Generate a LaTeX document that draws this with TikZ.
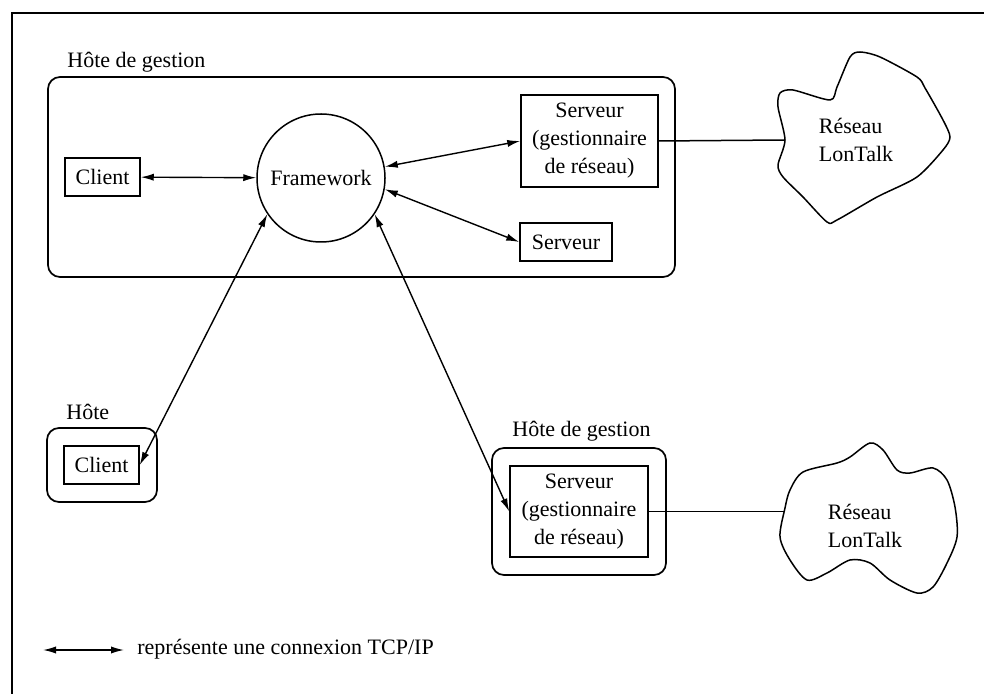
\documentclass[tikz,border=0pt]{standalone}
\usepackage{fontspec}
\setmainfont{Liberation Serif}
\usetikzlibrary{arrows.meta, positioning}
\tikzset{
  box/.style={
    rectangle,
    draw,
    line width=0.75pt,
    align=center,
    inner sep=0pt,
    font=\fontsize{11}{14}\selectfont
  },
  group/.style={
    rectangle,
    rounded corners=6pt,
    draw,
    line width=0.85pt,
    inner sep=0pt
  },
  hub/.style={
    circle,
    draw,
    line width=0.75pt,
    minimum size=64pt,
    inner sep=0pt,
    font=\fontsize{11}{14}\selectfont
  },
  tcp/.style={{Latex[length=6.5pt,width=3.6pt]}-{Latex[length=6.5pt,width=3.6pt]}, line width=0.7pt},
  link/.style={line width=0.75pt},
  cloud/.style={line width=0.75pt},
  note/.style={font=\fontsize{11}{14}\selectfont, align=left, inner sep=0pt}
}

\begin{document}
\begin{tikzpicture}[x=0.5pt,y=-0.5pt]
\useasboundingbox (0,0) rectangle (984,694);
\draw[line width=0.85pt] (984,13) -- (12,13) -- (12,694);

\node[note, anchor=base west] (hgtitle) at (67,68) {Hôte de gestion};
\node[group, minimum width=313.5pt, minimum height=100pt] (hgmain) at (361.5,177) {};
\node[box, minimum width=37.5pt, minimum height=19pt] (client) at (102.5,177) {Client};
\node[hub] (framework) at (321,178) {Framework};
\node[box, minimum width=68.5pt, minimum height=46pt] (srvgest) at (589.5,141) {Serveur\\(gestionnaire\\de réseau)};
\node[box, minimum width=46pt, minimum height=19pt] (srv) at (566,242) {Serveur};

\node[note, anchor=base west] (hotetitle) at (66,420) {Hôte};
\node[group, minimum width=55pt, minimum height=37pt] (hote) at (102,465) {};
\node[box, minimum width=37.5pt, minimum height=19pt] (client2) at (101.5,465) {Client};

\node[note, anchor=base west] (hg2title) at (512,437) {Hôte de gestion};
\node[group, minimum width=87pt, minimum height=63.5pt] (hg2) at (579,511.5) {};
\node[box, minimum width=69pt, minimum height=45.5pt] (srvgest2) at (579,511.5) {Serveur\\(gestionnaire\\de réseau)};

\draw[cloud] plot[smooth cycle, tension=0.45] coordinates {
  (860,52) (880,57) (917,77) (925,88) (943,120) (950,137) (943,150) (917,177)
  (877,197) (837,220) (827,222) (803,197) (783,177) (778,165) (785,140)
  (778,107) (780,93) (793,90) (830,100) (837,87) (850,57)};
\coordinate (lontalk1) at (785,140);
\node[note] (reseau1) at (856,140) {Réseau\\LonTalk};

\draw[cloud] plot[smooth cycle, tension=0.5] coordinates {
  (785,508) (790,490) (803,472) (837,463) (850,457) (870,443) (883,450)
  (897,470) (910,473) (933,468) (947,480) (955,507) (957,537) (947,563)
  (933,587) (917,593) (890,580) (870,563) (850,560) (827,573) (807,580)
  (790,560) (780,537)};
\coordinate (lontalk2) at (785,511.5);
\node[note] (reseau2) at (865,526) {Réseau\\LonTalk};

\draw[tcp] (client) -- (framework);
\draw[tcp] (framework.10) -- (srvgest.west);
\draw[tcp] (framework.-10) -- (srv.west);
\draw[tcp] (framework.214) -- (client2.east);
\draw[tcp] (framework.-34) -- (srvgest2.west);
\draw[link] (srvgest.east) -- (lontalk1);
\draw[link] (srvgest2.east) -- (lontalk2);

\coordinate (legleft) at (43,650);
\coordinate (legright) at (124,650);
\draw[tcp] (legleft) -- (legright);
\node[note, anchor=base west] (legend) at (137,654) {représente une connexion TCP/IP};
\end{tikzpicture}
\end{document}
